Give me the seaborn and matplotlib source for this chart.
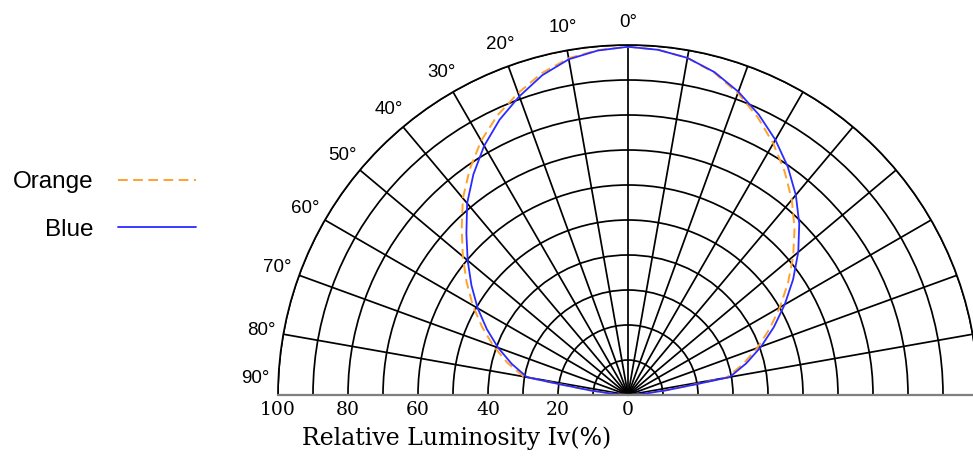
import numpy as np
import seaborn as sns
import matplotlib.pyplot as plt

# DATA ------------------------------------------------------------------------------------------------
# angles in degrees, negative = left half, positive = right half
angles = [-90, -87, -85, -83, -81, -80, -75, -70, -65, -60, -55, -50, -45, -40, -35, -30, -25, -20, -15, -10, -5,
          0, 5, 10, 15, 20, 25, 30, 35, 40, 45, 50, 55, 60, 65, 70, 75, 80, 81, 83, 85, 87, 90]
orange = [0, 2, 5, 11, 20, 30.3, 35.7, 40.9, 46.0, 51.2, 56.3, 61.6, 67.2, 73.4, 78.8, 83.9, 88.2, 91.8, 95.2, 97.7, 98.9,
          99.5, 99.0, 97.8, 95.3, 91.8, 87.6, 83.0, 78.0, 72.8, 67.3, 61.6, 55.8, 50.1, 44.6, 39.3, 34.0, 28.6, 19, 10.5, 5, 2, 0]
blue = [0, 2, 5, 11, 20, 29.3, 34.4, 39.5, 44.5, 49.6, 54.6, 59.8, 65.3, 71.5, 77.0, 82.2, 86.8, 90.8, 94.6, 97.4, 98.8,
        99.5, 99.0, 97.8, 95.5, 92.2, 88.4, 84.2, 79.6, 74.6, 69.2, 63.5, 57.6, 51.7, 46.0, 40.5, 35.0, 29.5, 20, 11, 5, 2, 0]

angle_labels = [0, 10, 20, 30, 40, 50, 60, 70, 80, 90]
r_labels = [100, 80, 60, 40, 20, 0]
r_rings = [10, 20, 30, 40, 50, 60, 70, 80, 90, 100]
series_names = ['Orange', 'Blue']
series_colors = ['#FFA22E', '#2B2BFF']

# FIGURE ----------------------------------------------------------------------------------------------
sns.set_style('white')
plt.rcParams['font.family'] = ['Liberation Sans', 'DejaVu Sans']
plt.rcParams['text.color'] = 'black'

W, H = 973, 457
fig = plt.figure(figsize=(W / 100, H / 100), dpi=100)
cx, cy, R = 628, 395, 350  # centre and outer radius in pixels
# polar axes stay square, the half disc sits in the vertical middle of the box
box_mid = cy - R / 2
ax = fig.add_axes([(cx - R) / W, (H - box_mid - R) / H, 2 * R / W, 2 * R / H], projection='polar')

ax.set_theta_zero_location('N')
ax.set_theta_direction(-1)
ax.set_thetamin(-90)
ax.set_thetamax(90)
ax.set_rlim(0, 100)
ax.set_axisbelow(True)

# grid: rings every 10, spokes every 10 degrees
ax.set_rticks(r_rings)
ax.set_yticklabels([])
ax.set_thetagrids(np.arange(-90, 91, 10), labels=[''] * 19)
ax.grid(True, color='black', linewidth=1.25)
ax.spines['polar'].set_color('black')
ax.spines['polar'].set_linewidth(1.25)
for s in ['start', 'end']:
    ax.spines[s].set_color('#7f7f7f')
    ax.spines[s].set_linewidth(1.6)
ax.tick_params(length=0, pad=0)

theta = np.deg2rad(angles)
sns.lineplot(x=theta, y=orange, ax=ax, color=series_colors[0], linewidth=1.4,
             linestyle=(0, (5, 2.8)), label=series_names[0], sort=False)
sns.lineplot(x=theta, y=blue, ax=ax, color=series_colors[1], linewidth=1.3,
             label=series_names[1], sort=False)
ax.set_xlabel('')
ax.set_ylabel('')
ax.get_legend().remove()

# angle labels on the left side only
for a in angle_labels:
    pos = a if a < 90 else 87.5
    ax.text(np.deg2rad(-pos), 106.5, f'{a}°', ha='center', va='center', fontsize=13.5)

# radial scale under the left half
for v in r_labels:
    ax.annotate(str(v), xy=(np.deg2rad(-90), v), xytext=(0, -4), textcoords='offset points',
                ha='center', va='top', fontsize=13.5, family='DejaVu Serif')
fig.text(457 / W, 1 - 438 / H, 'Relative Luminosity Iv(%)', ha='center', va='center',
         fontsize=17, family='DejaVu Serif')

# legend on the far left, text before the sample line
handles, labels = ax.get_legend_handles_labels()
fig.legend(handles, labels, loc='center right', bbox_to_anchor=(196 / W, 1 - 206 / H),
           markerfirst=False, frameon=False, fontsize=17.5, handlelength=3.2,
           handletextpad=1.0, labelspacing=1.05, borderpad=0, borderaxespad=0)

fig.savefig('out.png', dpi=100)
